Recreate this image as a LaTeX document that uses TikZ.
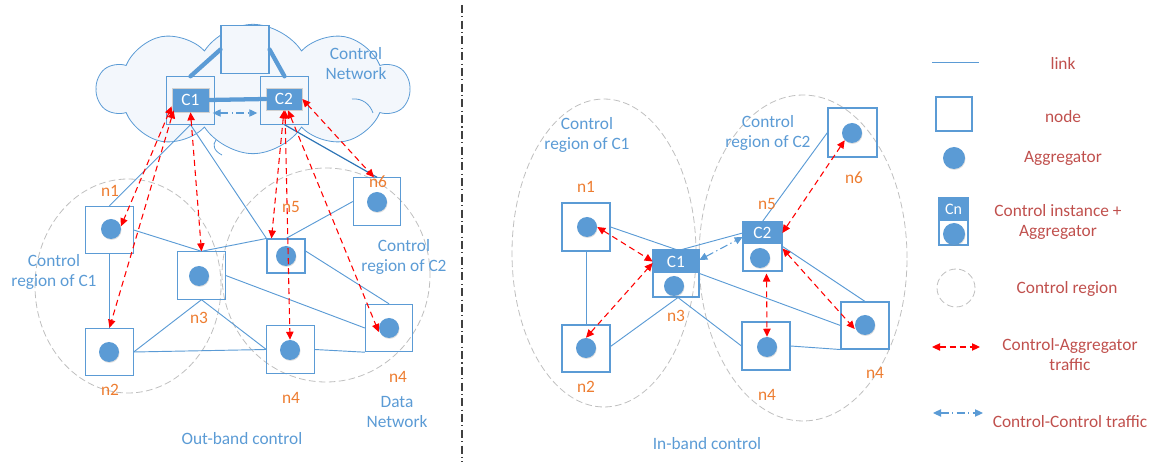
\documentclass[tikz,border=0pt]{standalone}
\usepackage{fontspec}
\setmainfont{Carlito}
\usetikzlibrary{arrows.meta,shapes.symbols,shadows,calc}

\definecolor{netblue}{HTML}{5B9BD5}
\definecolor{deepblue}{HTML}{2E75B6}
\definecolor{tagorange}{HTML}{ED7D31}
\definecolor{keyred}{HTML}{C0504D}
\definecolor{zonegray}{HTML}{BFBFBF}
\definecolor{cloudfill}{HTML}{F3F7FC}

\tikzset{
  txt/.style={font=\fontsize{13}{15}\selectfont, align=center, inner sep=0pt},
  bluetxt/.style={txt, text=netblue},
  tag/.style={txt, text=tagorange},
  keytxt/.style={txt, text=keyred},
  box/.style={draw=netblue, line width=0.8pt, inner sep=0pt,
    minimum width=35.5pt, minimum height=35.5pt},
  cbox/.style={box, fill=cloudfill},
  agg/.style={circle, fill=netblue, inner sep=0pt, minimum size=15pt,
    drop shadow={opacity=0.25, shadow xshift=0.4pt, shadow yshift=-0.7pt}},
  head/.style={fill=netblue, draw=black!18, line width=0.5pt, text=white,
    inner sep=0pt, font=\fontsize{13}{15}\selectfont},
  link/.style={draw=netblue, line width=0.7pt},
  trunk/.style={draw=netblue, line width=3.2pt, line cap=round},
  zone/.style={draw=zonegray, line width=0.6pt, dash pattern=on 5pt off 2.5pt},
  puffline/.style={draw=netblue, line width=0.6pt},
  catraffic/.style={draw=red, line width=0.8pt, dash pattern=on 4.5pt off 3pt,
    {Triangle[length=6pt,width=5.5pt]}-{Triangle[length=6pt,width=5.5pt]}},
  cctraffic/.style={draw=netblue, line width=0.8pt,
    dash pattern=on 6pt off 2.5pt on 1pt off 2.5pt,
    {Triangle[length=6pt,width=5.5pt]}-{Triangle[length=6pt,width=5.5pt]}},
}

\begin{document}
\begin{tikzpicture}[x=0.75pt,y=-0.75pt]
\useasboundingbox (0,0) rectangle (1150,466);

% ---------------- Out-band control ----------------
% control regions
\draw[zone] (128,286) ellipse [x radius=69.75pt, y radius=80.25pt];
\draw[zone] (326,275) ellipse [x radius=78pt, y radius=80.25pt];

% control network cloud, with two inner puff seams
\node[cloud, cloud puffs=10, cloud puff arc=115, aspect=2.45, draw=netblue,
  fill=cloudfill, line width=0.6pt, minimum width=234pt, minimum height=97pt]
  (cloud) at (253,89) {};
\draw[puffline] (352,99) .. controls (362,98) and (370,104) .. (373,113);
\draw[puffline] (216,140) .. controls (212,145) and (214,151) .. (222,155);

% control network
\node[cbox, minimum width=36pt] (ltop) at (245,49.5) {};
\node[cbox] (lc1box) at (190.5,100.5) {};
\node[head, minimum width=27.75pt, minimum height=18pt] (lc1) at (190.5,100) {C1};
\node[cbox] (lc2box) at (284.5,100.5) {};
\node[head, minimum width=27pt, minimum height=16.5pt] (lc2) at (284,99) {C2};
\draw[trunk] (ltop.west) -- (lc1box.north);
\draw[trunk] (ltop.east) -- (lc2box.north);
\draw[trunk] (lc1.east) -- (lc2.west);
\draw[cctraffic] ($(lc1box.east)+(-2,12.5)$) -- ($(lc2box.west)+(-3,12.5)$);

% data network nodes
\node[box] (ln1) at (109.5,230) {};
\node[agg] (la1) at (111,229) {};
\node[box] (ln2) at (109.5,352) {};
\node[agg] (la2) at (109,352) {};
\node[box] (ln3) at (201.5,275.5) {};
\node[agg] (la3) at (199,276) {};
\node[box, minimum width=28.5pt, minimum height=25.5pt] (ln5) at (286,256) {};
\node[agg] (la5) at (286,256) {};
\node[box] (ln6) at (377,201.5) {};
\node[agg] (la6) at (377,202) {};
\node[box] (ln4m) at (290.5,349.5) {};
\node[agg] (la4m) at (290,350) {};
\node[box] (ln4r) at (389,328) {};
\node[agg] (la4r) at (389,328) {};

% links
\draw[link] (lc1box.south) -- (ln1.north);
\draw[link] (lc1box.south) -- (ln5.north west);
\draw[draw=deepblue, line width=0.9pt] (lc2box.south) -- (ln6.north);
\draw[link] (ln1.east) -- (ln3.north);
\draw[link] (ln3.north) -- (ln5.north west);
\draw[link] (ln5.north) -- (ln6.west);
\draw[link] ($(ln5.east)+(0,-5)$) -- (ln4r.north);
\draw[link] (ln3.east) -- (ln4r.west);
\draw[link] (ln3.south) -- (ln2.east);
\draw[link] (ln3.south) -- (ln4m.west);
\draw[link] (ln1.south) -- (ln2.north);
\draw[link] (ln2.east) -- (ln4m.west);
\draw[link] (ln4m.east) -- (ln4r.south west);

% control-aggregator traffic
\draw[catraffic] ($(lc1.south west)+(0,-6)$) -- (la1.15);
\draw[catraffic] ($(lc1.south west)+(2,-2)$) -- (ln2.north);
\draw[catraffic] (lc1.south) -- (ln3.north);
\draw[catraffic] (lc2.south) -- ($(ln5.north west)+(5,0)$);
\draw[catraffic] ($(lc2.south)+(1,0)$) -- (la4m.north);
\draw[catraffic] ($(lc2.south)+(4,0)$) -- ($(la4r.west)+(0,4)$);
\draw[catraffic] (lc2.east) -- ($(ln6.north)+(-3,0)$);

% labels
\node[tag] at (110,191) {n1};
\node[tag] at (110,390) {n2};
\node[tag] at (199,318) {n3};
\node[tag] at (291,207) {n5};
\node[tag] at (378,182) {n6};
\node[tag] at (291,398) {n4};
\node[tag] at (398,377) {n4};
\node[bluetxt] at (356,64) {Control\\Network};
\node[bluetxt] at (54,272) {Control\\region of C1};
\node[bluetxt] at (404,257) {Control\\region of C2};
\node[bluetxt] at (397,412) {Data\\Network};
\node[bluetxt] at (242,439) {Out-band control};

% divider
\draw[draw=black!75, line width=0.8pt, dash pattern=on 6pt off 2.5pt on 0.8pt off 2.5pt]
  (462,5) -- (462,462);

% ---------------- In-band control ----------------
\draw[zone] (604,253) ellipse [x radius=69pt, y radius=115.5pt];
\draw[zone] (803,258) ellipse [x radius=78pt, y radius=122.25pt];

\node[box, minimum width=36pt, minimum height=36pt] (rn1) at (586,227) {};
\node[agg] (ra1) at (587,227) {};
\node[box, minimum width=36pt, minimum height=35.25pt] (rn2) at (586,348.5) {};
\node[agg] (ra2) at (586,348) {};
\node[box, minimum width=34.5pt, minimum height=35.25pt] (rc1) at (676,273.5) {};
\node[head, draw=none, minimum width=34.5pt, minimum height=17.25pt] (rc1h) at (676,261.5) {C1};
\node[agg] (ra3) at (674,286) {};
\node[box, minimum width=29.25pt, minimum height=36.75pt] (rc2) at (762.5,246.5) {};
\node[head, draw=none, minimum width=29.25pt, minimum height=16.5pt] (rc2h) at (762.5,233) {C2};
\node[agg] (ra5) at (760,258) {};
\draw[netblue, line width=1.5pt] ($(rc2.south west)+(3,-1)$) -- ($(rc2.south east)+(-5,-1)$);
\node[box, minimum width=36.75pt, minimum height=36.75pt] (rn6) at (852.5,132.5) {};
\node[agg] (ra6) at (852,133) {};
\node[box, minimum width=36pt, minimum height=36pt] (rn4m) at (766,346) {};
\node[agg] (ra4m) at (767,347) {};
\node[box, minimum width=36pt, minimum height=35.25pt] (rn4r) at (865,325.5) {};
\node[agg] (ra4r) at (865,325) {};

% links
\draw[link] (rn1.south) -- (rn2.north);
\draw[link] (rn1.east) -- (rc1.north);
\draw[link] ($(rc1.north)+(6,0)$) -- (rc2h.west);
\draw[link] ($(rn2.east)+(0,-2)$) -- ($(rc1.south)+(2,0)$);
\draw[link] ($(rc1.south)+(2,0)$) -- (rn4m.west);
\draw[link] (rc1.east) -- (rn4r.west);
\draw[link] (rc2.north) -- (rn6.west);
\draw[link] (rc2.east) -- (rn4r.north);
\draw[link] (rn4m.east) -- (rn4r.south west);

% traffic
\draw[cctraffic] ($(rc1h.east)+(0,-1.5)$) -- ($(rc2h.west)+(0,4)$);
\draw[catraffic] (ra1.east) -- (rc1h.west);
\draw[catraffic] (ra2.north) -- ($(rc1h.west)+(0,1.5)$);
\draw[catraffic] (ra6.south west) -- (rc2h.east);
\draw[catraffic] ($(rc2.south)+(4,2)$) -- (ra4m.north);
\draw[catraffic] ($(rc2.east)+(0,2)$) -- ($(ra4r.west)+(0,4)$);

% labels
\node[tag] at (586,187) {n1};
\node[tag] at (586,387) {n2};
\node[tag] at (676,316) {n3};
\node[tag] at (767,204) {n5};
\node[tag] at (854,178) {n6};
\node[tag] at (767,395) {n4};
\node[tag] at (875,373) {n4};
\node[bluetxt] at (587,135) {Control\\region of C1};
\node[bluetxt] at (768,133) {Control\\region of C2};
\node[bluetxt] at (707,444) {In-band control};

% ---------------- legend ----------------
\coordinate (klinka) at (932,62);
\coordinate (klinkb) at (979,62);
\draw[link] (klinka) -- (klinkb);
\node[keytxt] at (1063,63) {link};

\node[box, minimum width=27pt, minimum height=25.5pt] (knode) at (954,114) {};
\node[keytxt] at (1063,117) {node};

\node[agg, minimum size=16.5pt] (kagg) at (954,158) {};
\node[keytxt] at (1063,158) {Aggregator};

\node[box, minimum width=21.75pt, minimum height=35.25pt] (kcn) at (953.5,221.5) {};
\node[head, draw=none, minimum width=21.75pt, minimum height=17.25pt,
  font=\fontsize{12}{14}\selectfont] (kcnh) at (953.5,209.5) {Cn};
\node[agg, minimum size=16.5pt] (kcna) at (954,234) {};
\node[keytxt] at (1058,222) {Control instance +\\Aggregator};

\draw[zone] (956,288) circle [radius=14.25pt];
\node[keytxt] at (1067,289) {Control region};

\coordinate (kcaa) at (932,347);
\coordinate (kcab) at (980,347);
\draw[catraffic] (kcaa) -- (kcab);
\node[keytxt] at (1070,355) {Control-Aggregator\\traffic};

\coordinate (kcca) at (933,413);
\coordinate (kccb) at (983,413);
\draw[cctraffic] (kcca) -- (kccb);
\node[keytxt] at (1070,422) {Control-Control traffic};
\end{tikzpicture}
\end{document}
